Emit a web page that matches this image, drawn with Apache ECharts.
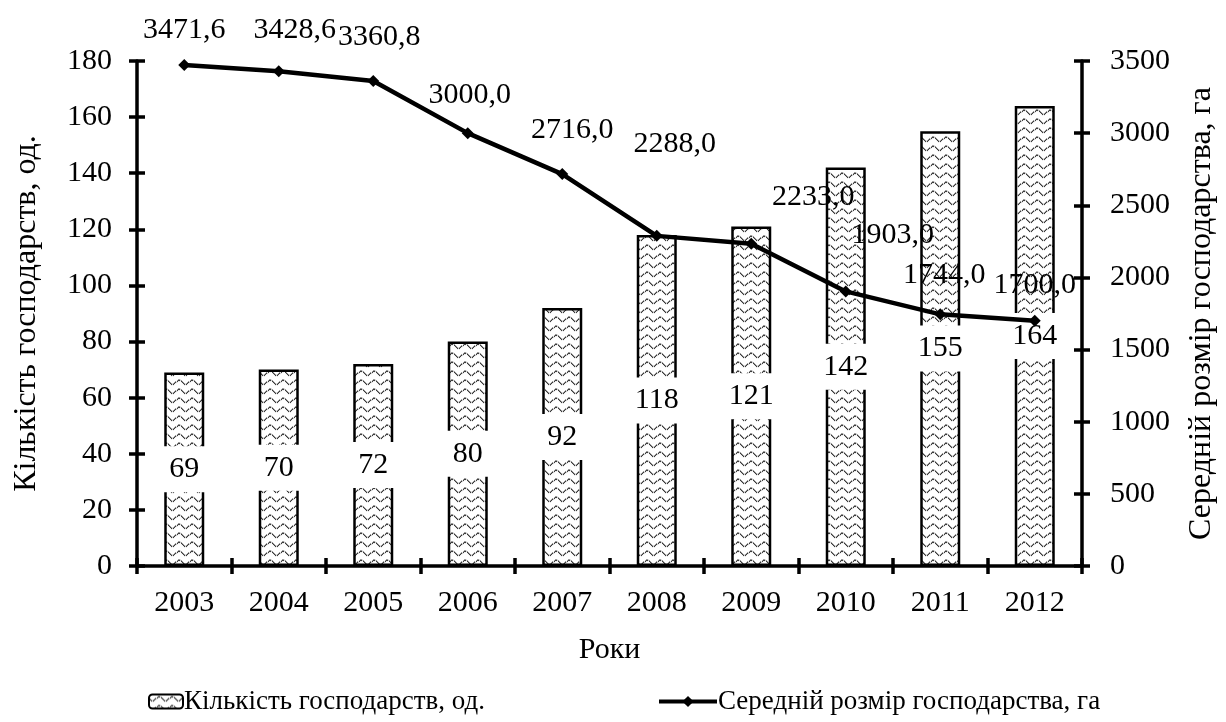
<!DOCTYPE html>
<html><head><meta charset="utf-8">
<script src="https://cdn.jsdelivr.net/npm/echarts@6/dist/echarts.min.js"></script>
<style>html,body{margin:0;padding:0;background:#fff}#c{width:1226px;height:722px}</style>
</head><body><div id="c"></div>
<script>
const years = ['2003','2004','2005','2006','2007','2008','2009','2010','2011','2012'];
const farmCount = [69,70,72,80,92,118,121,142,155,164];
const avgSize = [3471.6,3428.6,3360.8,3000.0,2716.0,2288.0,2233.0,1903.0,1744.0,1700.0];
const leftTicks = {min:0,max:180,interval:20};
const rightTicks = {min:0,max:3500,interval:500};
const barName = 'Кількість господарств, од.';
const lineName = 'Середній розмір господарства, га';
const xTitle = 'Роки';
// label placement nudges (layout only, px relative to the marker)
const lineLabelNudge = [[0,-35],[16,-41],[6,-44],[2,-38],[10,-44],[18,-92],[62,-47],[47,-56],[4,-39],[0,-36]];

const FONT = '"Liberation Serif","Times New Roman",serif';

function makePattern(){
  const w = 13, h = 9;
  const c = document.createElement('canvas');
  c.width = w; c.height = h;
  const g = c.getContext('2d');
  g.fillStyle = '#fff'; g.fillRect(0,0,w,h);
  for (let x = 0; x < w; x++) {
    const y = 4 + 2*Math.sin(2*Math.PI*x/w);
    const k = x % 4;
    g.fillStyle = (k === 3) ? '#ccc' : '#3a3a3a';
    g.fillRect(x, Math.round(y) - 0.5, 1, 1.6);
  }
  return c;
}
const pat = makePattern();

const chart = echarts.init(document.getElementById('c'), null, {renderer:'canvas'});
const axisLine = {show:true, lineStyle:{color:'#000', width:3.5}};
const tickOut = {show:true, length:8, lineStyle:{color:'#000', width:3.5}};
const tickIn = {show:true, inside:true, length:8, lineStyle:{color:'#000', width:3.5}};
const lblStyle = {color:'#000', fontFamily:FONT, fontSize:30};
const titleStyle = {color:'#000', fontFamily:FONT, fontSize:32};

chart.setOption({
  animation:false,
  grid:{left:137, right:139, top:61, bottom:156, containLabel:false},
  legend:[
    {data:[{name:barName, itemStyle:{borderWidth:2, borderColor:'#000'}}], left:143, top:683, itemWidth:34, itemHeight:14, itemGap:0,
     textStyle:{color:'#000', fontFamily:FONT, fontSize:27, padding:[0,0,0,-4]}},
    {data:[{name:lineName, lineStyle:{width:4, color:'#000'}}], left:652, top:683, itemWidth:58, itemHeight:14,
     textStyle:{color:'#000', fontFamily:FONT, fontSize:27, padding:[0,0,0,-4]}}
  ],
  xAxis:[
    {type:'category', data:years, boundaryGap:true, axisLine:axisLine, axisTick:tickOut,
     axisLabel:Object.assign({margin:22}, lblStyle),
     name:xTitle, nameLocation:'middle', nameGap:69, nameTextStyle:lblStyle},
    {type:'category', data:years, position:'bottom', boundaryGap:true, axisLine:{show:false}, axisTick:tickIn, axisLabel:{show:false}}
  ],
  yAxis:[
    Object.assign({type:'value', position:'left', splitLine:{show:false}, axisLine:axisLine, axisTick:tickOut,
     axisLabel:Object.assign({margin:25}, lblStyle),
     name:barName, nameLocation:'middle', nameGap:94, nameRotate:90, nameTextStyle:titleStyle}, leftTicks),
    Object.assign({type:'value', position:'right', splitLine:{show:false}, axisLine:axisLine, axisTick:tickOut,
     axisLabel:Object.assign({margin:28, formatter:v=>String(v)}, lblStyle),
     name:lineName, nameLocation:'middle', nameGap:104, nameRotate:90, nameTextStyle:titleStyle}, rightTicks),
    Object.assign({type:'value', position:'left', splitLine:{show:false}, axisLine:{show:false}, axisTick:tickIn, axisLabel:{show:false}}, leftTicks),
    Object.assign({type:'value', position:'right', splitLine:{show:false}, axisLine:{show:false}, axisTick:tickIn, axisLabel:{show:false}}, rightTicks)
  ],
  series:[
    {name:barName, type:'bar', data:farmCount, xAxisIndex:0, yAxisIndex:0, barWidth:40,
     itemStyle:{color:{image:pat, repeat:'repeat'}, borderColor:'#000', borderWidth:2.5},
     label:{show:true, position:'inside', color:'#000', fontFamily:FONT, fontSize:30,
       backgroundColor:'#fff', padding:[9,6,7,6]}},
    {name:lineName, type:'line', xAxisIndex:0, yAxisIndex:1, z:5,
     data:avgSize.map((v,i)=>({value:v, label:{offset:lineLabelNudge[i]}})),
     symbol:'diamond', symbolSize:12, lineStyle:{color:'#000', width:4.5},
     itemStyle:{color:'#000'},
     label:{show:true, position:'inside', color:'#000', fontFamily:FONT, fontSize:30,
       formatter:p=>p.value.toFixed(1).replace('.', ',')}}
  ]
});
</script></body></html>
